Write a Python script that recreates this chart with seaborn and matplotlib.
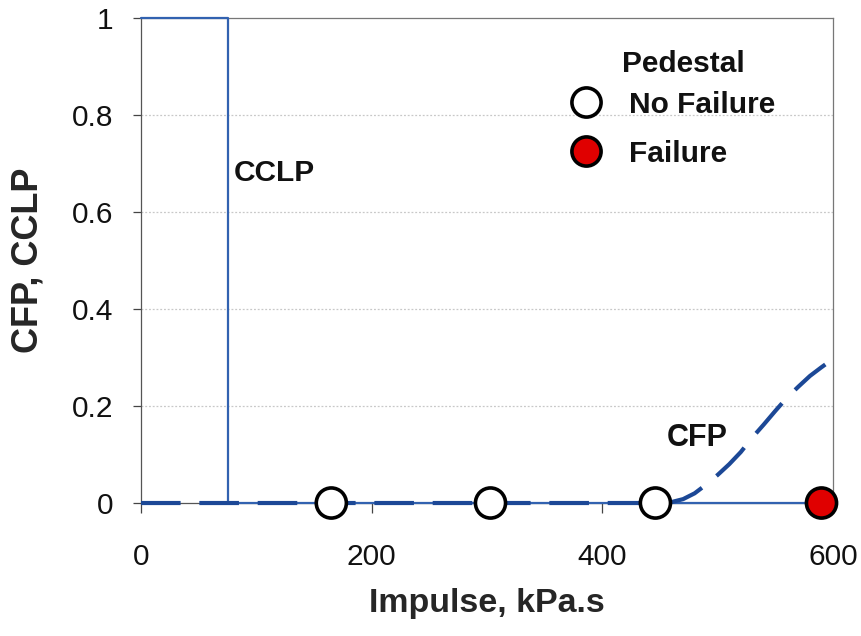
import matplotlib
matplotlib.use("Agg")
import matplotlib.pyplot as plt
from matplotlib.lines import Line2D
import seaborn as sns
import pandas as pd

# CCLP step: fully collapsed below the critical impulse, zero above it
cclp_x = [0, 75, 75, 600]
cclp_y = [1, 1, 0, 0]

# CFP fragility curve
cfp_x = [0, 100, 200, 300, 400, 450, 460, 470, 480, 490, 500, 510, 520,
         530, 540, 550, 560, 570, 580, 590, 600]
cfp_y = [0, 0, 0, 0, 0, 0, 0.002, 0.008, 0.02, 0.038, 0.058, 0.08, 0.105,
         0.135, 0.162, 0.19, 0.217, 0.24, 0.262, 0.28, 0.297]

# Pedestal test outcomes
test_x = [165, 303, 446, 590]
test_y = [0, 0, 0, 0]
test_outcome = ["No Failure", "No Failure", "No Failure", "Failure"]

x_ticks = [0, 200, 400, 600]
y_ticks = [0, 0.2, 0.4, 0.6, 0.8, 1]
y_tick_labels = ["0", "0.2", "0.4", "0.6", "0.8", "1"]

sns.set_theme(style="white")
plt.rcParams["font.family"] = ["Liberation Sans", "DejaVu Sans"]

fig = plt.figure(figsize=(8.62, 6.36), dpi=100)
ax = fig.add_axes([0.1636, 0.2091, 0.9664 - 0.1636, 0.9717 - 0.2091])

cclp_color = "#3262b0"
cfp_color = "#1c4896"

cclp = pd.DataFrame({"x": cclp_x, "y": cclp_y})
cfp = pd.DataFrame({"x": cfp_x, "y": cfp_y})
tests = pd.DataFrame({"x": test_x, "y": test_y, "Pedestal": test_outcome})

sns.lineplot(data=cclp, x="x", y="y", estimator=None, sort=False,
             color=cclp_color, linewidth=1.6, ax=ax, zorder=3)
sns.lineplot(data=cfp, x="x", y="y", estimator=None, sort=False,
             color=cfp_color, linewidth=3.0, ax=ax, zorder=4)
ax.lines[-1].set_dashes((9.5, 4.5))
for ln in ax.lines:
    ln.set_clip_on(False)

palette = {"No Failure": "white", "Failure": "#e00000"}
sns.scatterplot(data=tests, x="x", y="y", hue="Pedestal", palette=palette,
                s=470, edgecolor="black", linewidth=2.6, legend=False,
                ax=ax, zorder=5, clip_on=False)

ax.set_xlim(0, 600)
ax.set_ylim(0, 1)
ax.set_xticks(x_ticks)
ax.set_yticks(y_ticks)
ax.set_yticklabels(y_tick_labels)

ax.tick_params(axis="x", direction="out", length=7, width=0.9, color="#444444",
               pad=22, labelsize=21.5, bottom=True)
ax.tick_params(axis="y", direction="out", length=6, width=0.9, color="#444444",
               pad=14, labelsize=21.5, left=True)
for lab in ax.get_xticklabels() + ax.get_yticklabels():
    lab.set_color("#111111")

for side, sp in ax.spines.items():
    sp.set_visible(True)
    sp.set_linewidth(0.9)
    sp.set_color("#555555")
ax.spines["top"].set_color("#777777")
ax.spines["right"].set_color("#777777")

# dotted horizontal gridlines
for yv in y_ticks[1:-1]:
    ax.axhline(yv, color="#c8c8c8", linewidth=0.9, linestyle=(0, (1.5, 1.5)),
               zorder=1)

ax.set_xlabel("Impulse, kPa.s", fontsize=24.5, fontweight="bold", labelpad=12)
ax.set_ylabel("CFP, CCLP", fontsize=26, fontweight="bold", labelpad=19)

ax.text(80, 0.68, "CCLP", fontsize=21.5, fontweight="bold", va="center",
        ha="left", color="#111111")
ax.text(456, 0.135, "CFP", fontsize=22, fontweight="bold", va="center",
        ha="left", color="#111111")

# legend with its heading placed above the entries
ax.text(470, 0.905, "Pedestal", fontsize=21.5, fontweight="bold",
        ha="center", va="center", color="#111111")
handles = [
    Line2D([], [], linestyle="none", marker="o", markersize=21,
           markerfacecolor=palette[k], markeredgecolor="black",
           markeredgewidth=2.6, label=k)
    for k in ["No Failure", "Failure"]
]
leg = ax.legend(handles=handles, loc="upper left",
                bbox_to_anchor=(0.6, 0.85), frameon=False, fontsize=21.5,
                handletextpad=0.45, labelspacing=0.7, borderaxespad=0,
                borderpad=0)
for t in leg.get_texts():
    t.set_fontweight("bold")
    t.set_color("#111111")

fig.savefig("out.png", dpi=100, facecolor="white")
